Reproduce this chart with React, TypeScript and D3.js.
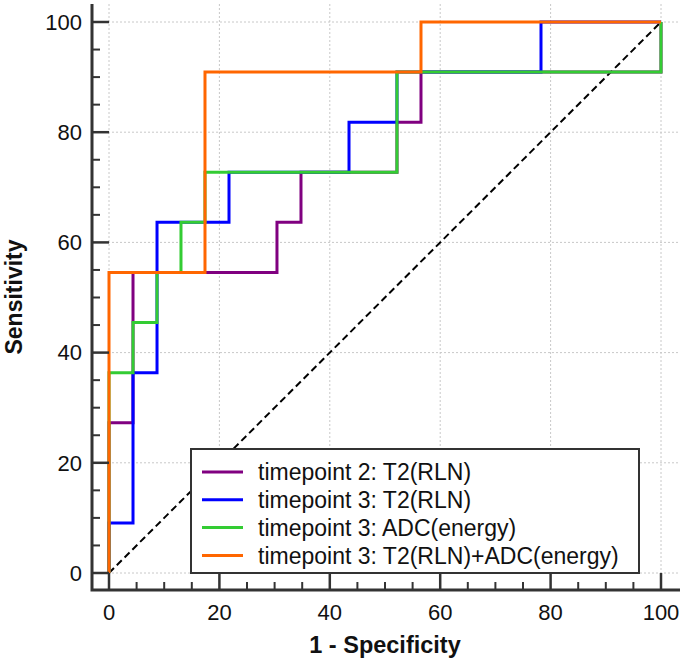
import { useEffect, useRef } from "react";
import * as d3 from "d3";

const width = 685;
const height = 662;

// plot box (pixel extents of the axes) and the 0..100 data range inside it
const PLOT = { left: 92, right: 680, top: 4, bottom: 590 };
const X_RANGE = [109, 661];
const Y_RANGE = [573, 22];

const majorTicks = [0, 20, 40, 60, 80, 100];
const minorTicks = d3.range(0, 101, 5).filter(v => v % 20 !== 0);

// ROC operating points (1 - specificity, sensitivity), drawn as steps
const tp2T2Fpr = [0, 0, 4.35, 30.43, 34.78, 52.17, 56.52, 100];
const tp2T2Sens = [0, 27.27, 54.55, 63.64, 72.73, 81.82, 90.91, 100];

const tp3T2Fpr = [0, 0, 4.35, 8.7, 21.74, 43.48, 52.17, 78.26, 100];
const tp3T2Sens = [0, 9.09, 36.36, 63.64, 72.73, 81.82, 90.91, 100, 100];

const tp3AdcFpr = [0, 0, 4.35, 8.7, 13.04, 17.39, 52.17, 100];
const tp3AdcSens = [0, 36.36, 45.45, 54.55, 63.64, 72.73, 90.91, 100];

const tp3ComboFpr = [0, 0, 17.39, 56.52, 100];
const tp3ComboSens = [0, 54.55, 90.91, 100, 100];

const seriesNames = [
  "timepoint 2: T2(RLN)",
  "timepoint 3: T2(RLN)",
  "timepoint 3: ADC(energy)",
  "timepoint 3: T2(RLN)+ADC(energy)"
];
const seriesColors = ["#800080", "#0000ff", "#33cc33", "#ff6600"];
const seriesFpr = [tp2T2Fpr, tp3T2Fpr, tp3AdcFpr, tp3ComboFpr];
const seriesSens = [tp2T2Sens, tp3T2Sens, tp3AdcSens, tp3ComboSens];

const FONT = "Arial, 'Liberation Sans', sans-serif";
const AXIS_COLOR = "#333";

function App() {
  const svgRef = useRef(null);

  useEffect(() => {
    const svg = d3.select(svgRef.current);
    svg.selectAll("*").remove();

    const x = d3.scaleLinear().domain([0, 100]).range(X_RANGE);
    const y = d3.scaleLinear().domain([0, 100]).range(Y_RANGE);

    // grid
    const grid = svg.append("g")
      .attr("stroke", "#c8c8c8")
      .attr("stroke-width", 1)
      .attr("stroke-dasharray", "2,2");
    grid.selectAll(".gx").data(majorTicks).join("line")
      .attr("x1", d => x(d)).attr("x2", d => x(d))
      .attr("y1", PLOT.top).attr("y2", PLOT.bottom);
    grid.selectAll(".gy").data(majorTicks).join("line")
      .attr("y1", d => y(d)).attr("y2", d => y(d))
      .attr("x1", PLOT.left).attr("x2", PLOT.right);

    // reference diagonal
    svg.append("line")
      .attr("x1", x(0)).attr("y1", y(0))
      .attr("x2", x(100)).attr("y2", y(100))
      .attr("stroke", "#000")
      .attr("stroke-width", 2)
      .attr("stroke-dasharray", "7,4");

    // ROC curves
    const line = d3.line<[number, number]>()
      .x(d => x(d[0]))
      .y(d => y(d[1]))
      .curve(d3.curveStepAfter);

    seriesFpr.forEach((fpr, i) => {
      const pts = fpr.map((f, j) => [f, seriesSens[i][j]] as [number, number]);
      svg.append("path")
        .datum(pts)
        .attr("fill", "none")
        .attr("stroke", seriesColors[i])
        .attr("stroke-width", 3)
        .attr("d", line);
    });

    // y-axis (ticks point inward)
    const yAxis = svg.append("g")
      .attr("transform", `translate(${PLOT.left},0)`);
    yAxis.selectAll(".maj").data(majorTicks).join("line")
      .attr("x1", 0).attr("x2", x(0) - PLOT.left)
      .attr("y1", d => y(d)).attr("y2", d => y(d))
      .attr("stroke", AXIS_COLOR).attr("stroke-width", 2.5);
    yAxis.selectAll(".min").data(minorTicks).join("line")
      .attr("x1", 0).attr("x2", 8)
      .attr("y1", d => y(d)).attr("y2", d => y(d))
      .attr("stroke", AXIS_COLOR).attr("stroke-width", 2);
    yAxis.selectAll("text").data(majorTicks).join("text")
      .attr("x", -10)
      .attr("y", d => y(d))
      .attr("dy", "0.35em")
      .attr("text-anchor", "end")
      .attr("font-family", FONT)
      .attr("font-size", 22)
      .attr("fill", "#111")
      .text(d => d);

    // x-axis (ticks point inward)
    const xAxis = svg.append("g")
      .attr("transform", `translate(0,${PLOT.bottom})`);
    xAxis.selectAll(".maj").data(majorTicks).join("line")
      .attr("y1", 0).attr("y2", y(0) - PLOT.bottom)
      .attr("x1", d => x(d)).attr("x2", d => x(d))
      .attr("stroke", AXIS_COLOR).attr("stroke-width", 2.5);
    xAxis.selectAll(".min").data(minorTicks).join("line")
      .attr("y1", 0).attr("y2", -8)
      .attr("x1", d => x(d)).attr("x2", d => x(d))
      .attr("stroke", AXIS_COLOR).attr("stroke-width", 2);
    xAxis.selectAll("text").data(majorTicks).join("text")
      .attr("x", d => x(d))
      .attr("y", 30)
      .attr("text-anchor", "middle")
      .attr("font-family", FONT)
      .attr("font-size", 22)
      .attr("fill", "#111")
      .text(d => d);

    // axis lines
    svg.append("path")
      .attr("d", `M${PLOT.left},${PLOT.top}V${PLOT.bottom}H${PLOT.right}`)
      .attr("fill", "none")
      .attr("stroke", AXIS_COLOR)
      .attr("stroke-width", 3);

    // axis titles
    svg.append("text")
      .attr("transform", `translate(22,${(PLOT.top + PLOT.bottom) / 2}) rotate(-90)`)
      .attr("text-anchor", "middle")
      .attr("font-family", FONT)
      .attr("font-weight", "bold")
      .attr("font-size", 23)
      .attr("fill", "#111")
      .text("Sensitivity");
    svg.append("text")
      .attr("x", (PLOT.left + PLOT.right) / 2 - 1)
      .attr("y", 653)
      .attr("text-anchor", "middle")
      .attr("font-family", FONT)
      .attr("font-weight", "bold")
      .attr("font-size", 23.5)
      .attr("fill", "#111")
      .text("1 - Specificity");

    // legend
    const legend = svg.append("g").attr("transform", "translate(191,449)");
    legend.append("rect")
      .attr("width", 448).attr("height", 124)
      .attr("fill", "#fff")
      .attr("stroke", AXIS_COLOR)
      .attr("stroke-width", 2);
    const rows = legend.selectAll(".row").data(seriesNames).join("g")
      .attr("transform", (_, i) => `translate(0,${23 + i * 27.8})`);
    rows.append("line")
      .attr("x1", 11).attr("x2", 52)
      .attr("stroke", (_, i) => seriesColors[i])
      .attr("stroke-width", 3);
    rows.append("text")
      .attr("x", 67)
      .attr("dy", "0.36em")
      .attr("font-family", FONT)
      .attr("font-size", 23)
      .attr("fill", "#111")
      .text(d => d);
  }, []);

  return (
    <div>
      <svg
        width={width}
        height={height}
        ref={svgRef}
        style={{ position: "absolute", left: 0, top: 0, background: "#fff" }}
      />
    </div>
  );
}

export default App;
